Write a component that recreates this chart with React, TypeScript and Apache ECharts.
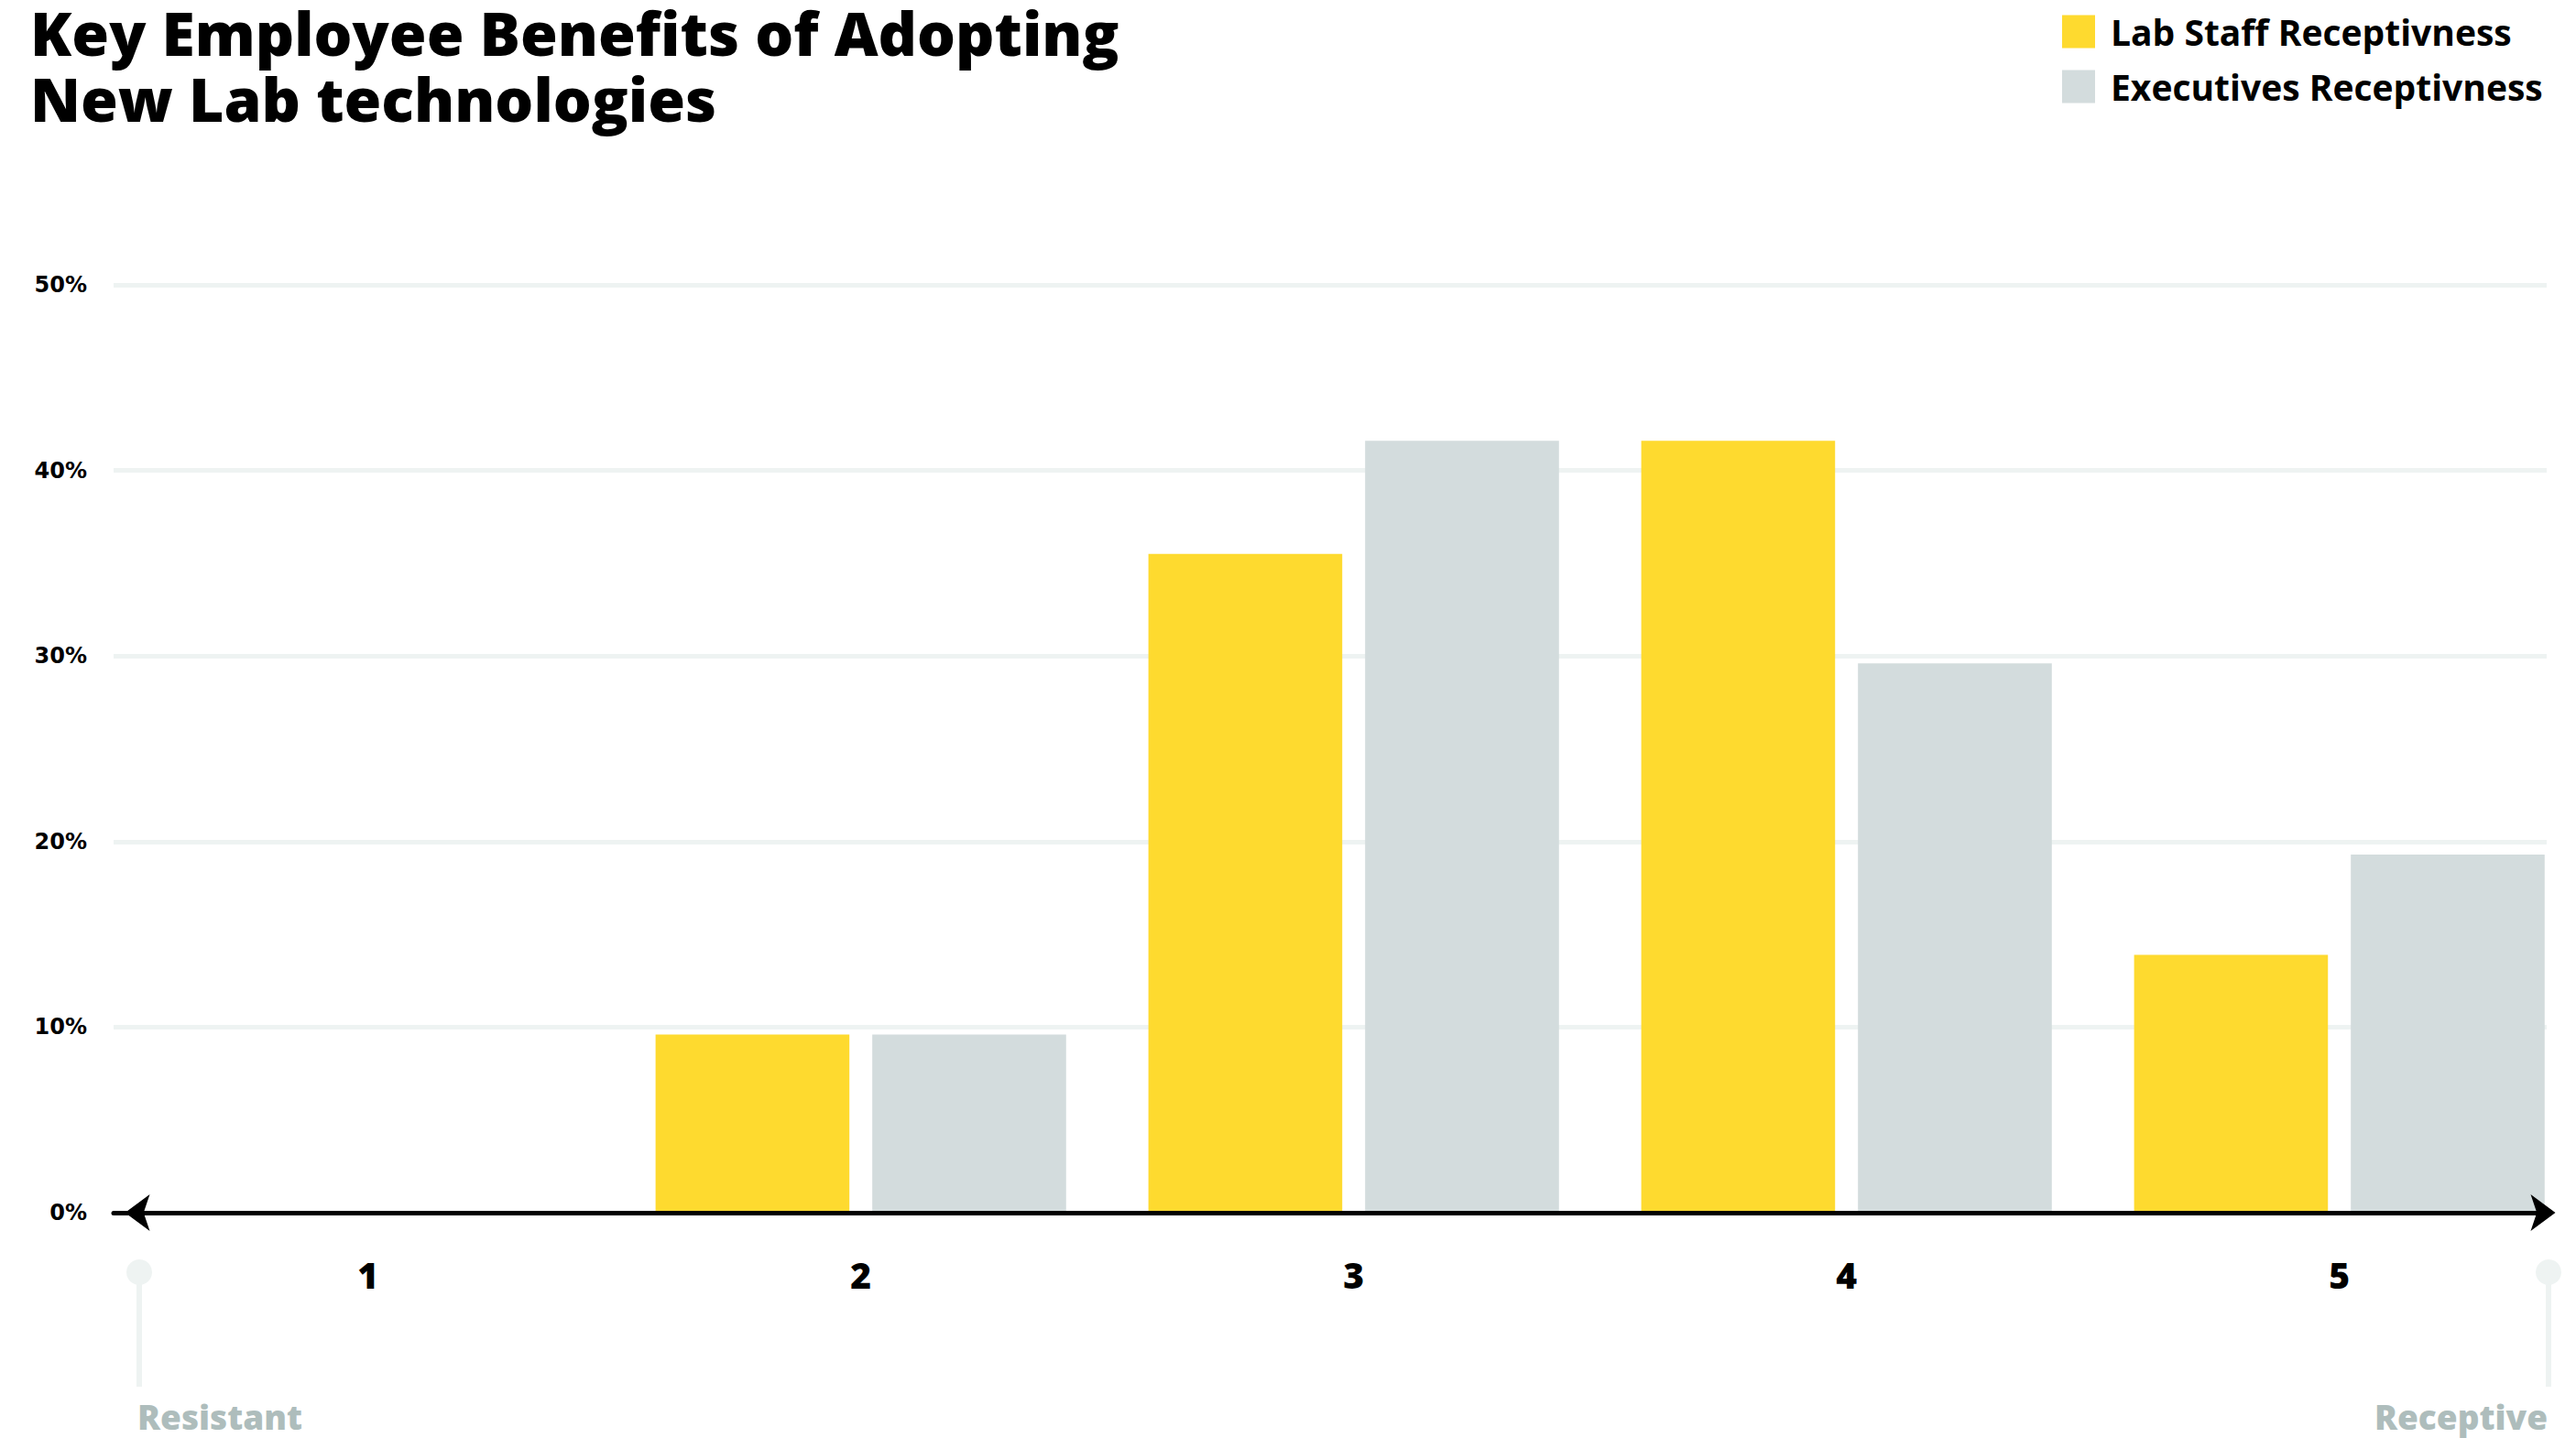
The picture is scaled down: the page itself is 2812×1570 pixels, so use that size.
import React, { useEffect, useRef } from "react";
import * as echarts from "echarts";

const categories = ["1", "2", "3", "4", "5"];
const labStaff = [0, 9.6, 35.5, 41.6, 13.9];
const executives = [0, 9.6, 41.6, 29.6, 19.3];
const seriesNames = ["Lab Staff Receptivness", "Executives Receptivness"];
const yTicks = { min: 0, max: 50, interval: 10 };
const titleLines = ["Key Employee Benefits of Adopting", "New Lab technologies"];
const scaleEnds = ["Resistant", "Receptive"];

const YELLOW = "#FEDA2F";
const GREY = "#D3DCDD";
const GRID = "#EEF3F2";
const END_TEXT = "#AEBDBC";

export default function App() {
  const ref = useRef<HTMLDivElement>(null);
  useEffect(() => {
    document.body.style.margin = "0";
    document.body.style.overflow = "hidden";
    const chart = echarts.init(ref.current!, null, { renderer: "svg" });
    const top = 311;
    const height = 1013;
    const titleStyle = {
      fontFamily: "Open Sans",
      fontWeight: 800,
      fontSize: 66,
      lineHeight: 66,
      color: "#000",
    };
    chart.setOption({
      animation: false,
      backgroundColor: "#ffffff",
      title: titleLines.map((t, i) => ({
        text: t,
        left: 33,
        top: 2 + i * 72,
        padding: 0,
        textStyle: titleStyle,
      })),
      legend: {
        orient: "vertical",
        left: 2251,
        top: 15,
        itemWidth: 36,
        itemHeight: 36,
        itemGap: 21,
        icon: "rect",
        padding: 0,
        data: seriesNames,
        textStyle: {
          fontFamily: "Open Sans",
          fontWeight: 700,
          fontSize: 39,
          lineHeight: 36,
          color: "#000",
          padding: [0, 0, 0, 12],
        },
      },
      grid: [
        { left: 132.7, width: 2690, top, height, containLabel: false },
        { left: 124, width: 2656, top, height, containLabel: false },
      ],
      xAxis: [
        {
          gridIndex: 0,
          type: "category",
          data: categories,
          axisLine: { show: false },
          axisTick: { show: false },
          axisLabel: {
            margin: 48,
            fontFamily: "Open Sans",
            fontWeight: 800,
            fontSize: 39,
            color: "#000",
          },
        },
        {
          gridIndex: 1,
          type: "category",
          data: categories,
          z: 10,
          axisTick: { show: false },
          axisLabel: { show: false },
          axisLine: {
            show: true,
            lineStyle: { color: "#000", width: 5 },
            symbol: ["arrow", "arrow"],
            symbolSize: [30, 27],
            symbolOffset: [12.5, 9.5],
          },
        },
      ],
      yAxis: [
        {
          gridIndex: 0,
          type: "value",
          ...yTicks,
          show: false,
        },
        {
          gridIndex: 1,
          type: "value",
          ...yTicks,
          axisLine: { show: false },
          axisTick: { show: false },
          splitLine: { show: true, lineStyle: { color: GRID, width: 5 } },
          axisLabel: {
            margin: 29,
            formatter: "{value}%",
            fontFamily: "DejaVu Sans",
            fontWeight: 600,
            fontSize: 24,
            color: "#000",
          },
        },
      ],
      series: [
        {
          name: seriesNames[0],
          type: "bar",
          xAxisIndex: 0,
          yAxisIndex: 0,
          data: labStaff,
          barWidth: 211.6,
          barGap: "11.8%",
          itemStyle: { color: YELLOW },
        },
        {
          name: seriesNames[1],
          type: "bar",
          xAxisIndex: 0,
          yAxisIndex: 0,
          data: executives,
          barWidth: 211.6,
          barGap: "11.8%",
          itemStyle: { color: GREY },
        },
      ],
      graphic: [
        { type: "line", shape: { x1: 152, y1: 1389, x2: 152, y2: 1514 }, style: { stroke: GRID, lineWidth: 6 } },
        { type: "circle", shape: { cx: 152, cy: 1389, r: 14 }, style: { fill: GRID } },
        { type: "line", shape: { x1: 2782, y1: 1389, x2: 2782, y2: 1514 }, style: { stroke: GRID, lineWidth: 6 } },
        { type: "circle", shape: { cx: 2782, cy: 1389, r: 14 }, style: { fill: GRID } },
        {
          type: "text",
          x: 150,
          y: 1546,
          style: {
            text: scaleEnds[0],
            fill: END_TEXT,
            font: "800 37px 'Open Sans'",
            textAlign: "left",
            textVerticalAlign: "middle",
          },
        },
        {
          type: "text",
          x: 2781,
          y: 1546,
          style: {
            text: scaleEnds[1],
            fill: END_TEXT,
            font: "800 37px 'Open Sans'",
            textAlign: "right",
            textVerticalAlign: "middle",
          },
        },
      ],
    });
    return () => chart.dispose();
  }, []);
  return <div ref={ref} style={{ width: 2840, height: 1570 }} />;
}
